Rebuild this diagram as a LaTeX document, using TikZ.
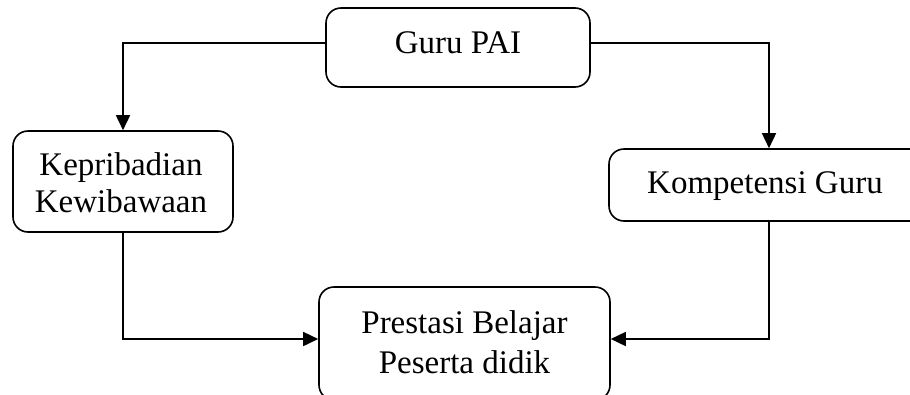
\documentclass[tikz,border=0pt]{standalone}
\usepackage{fontspec}
\setmainfont{Liberation Serif}
\usetikzlibrary{arrows.meta}
\begin{document}
\begin{tikzpicture}[x=1pt,y=-1pt,
  box/.style={draw,line width=1.6pt,rounded corners=15pt,inner sep=0pt},
  lbl/.style={font=\fontsize{33}{38}\selectfont,anchor=base,inner sep=0pt},
  conn/.style={line width=1.6pt,-{Triangle[length=15pt,width=14pt]}}]
\useasboundingbox (0,0) rectangle (910,394);
\node[box,minimum width=264pt,minimum height=79pt] (guru) at (458,47.5) {};
\node[box,minimum width=220pt,minimum height=101pt] (kep) at (123,181.5) {};
\node[box,minimum width=320pt,minimum height=72pt] (komp) at (769,185) {};
\node[box,minimum width=291pt,minimum height=113pt] (pres) at (464.5,343.5) {};
\node[lbl] (tguru) at (458,53) {Guru PAI};
\node[lbl] (tkep1) at (121,175) {Kepribadian};
\node[lbl] (tkep2) at (121,212) {Kewibawaan};
\node[lbl] (tkomp) at (765,193) {Kompetensi Guru};
\node[lbl] (tpres1) at (464.5,333) {Prestasi Belajar};
\node[lbl] (tpres2) at (464.5,373) {Peserta didik};
\draw[conn] ([yshift=4.5pt]guru.west) -| (kep.north);
\draw[conn] ([yshift=4.5pt]guru.east) -| (komp.north);
\draw[conn] (kep.south) |- ([yshift=4.5pt]pres.west);
\draw[conn] (komp.south) |- ([yshift=4.5pt]pres.east);
\end{tikzpicture}
\end{document}
